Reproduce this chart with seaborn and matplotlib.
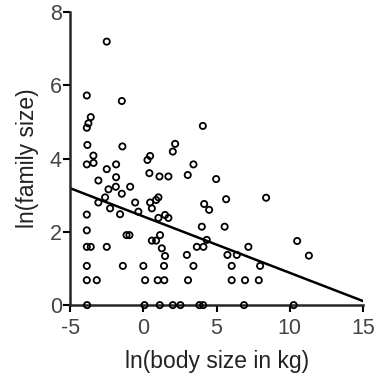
import numpy as np
import pandas as pd
import matplotlib
matplotlib.use("Agg")
import matplotlib.pyplot as plt
import seaborn as sns

# points (ln body size, ln family size)
body_size = [
    -2.5, -3.86, -1.47, -3.59, -3.75, -3.86, 4.06, -3.82, -1.43, 2.17,
    2.01, -3.41, 0.46, 0.28, -3.86, -3.40, -2.5, -1.86, 3.42, 0.41,
    1.10, 1.71, 3.03, 4.97, -3.07, -1.86, -2.38, -1.88, -0.90, -1.47,
    -3.07, -2.61, -2.27, -0.56, -0.34, 0.46, 0.58, 1.03, 0.87, 4.15,
    4.49, 5.65, 8.38, -3.86, -1.59, 1.03, 1.48, 1.71, 3.99, 5.55,
    -3.86, -1.15, -0.95, 1.14, 0.58, 0.87, 4.33, 1.26, 1.48, -3.86,
    -3.59, -2.5, 2.97, 3.65, 4.10, 7.17, 10.5, 11.3, 5.74, 6.38,
    -3.86, -1.4, 0.0, 1.41, 3.42, 6.03, 7.97, -3.86, -3.18, 0.12,
    0.98, 1.43, 3.05, 6.03, 6.94, 7.88,
    -3.84, 0.08, 1.12, 2.01, 2.53, 3.83, 4.08, 6.87, 10.26,
]
family_size = [
    7.19, 5.72, 5.57, 5.13, 4.96, 4.84, 4.89, 4.37, 4.33, 4.40,
    4.19, 4.08, 4.07, 3.96, 3.84, 3.88, 3.71, 3.84, 3.84, 3.60,
    3.51, 3.51, 3.55, 3.44, 3.40, 3.49, 3.16, 3.23, 3.23, 3.04,
    2.80, 2.94, 2.64, 2.80, 2.55, 2.80, 2.64, 2.94, 2.87, 2.76,
    2.60, 2.89, 2.93, 2.47, 2.48, 2.38, 2.46, 2.38, 2.14, 2.14,
    2.04, 1.91, 1.91, 1.91, 1.76, 1.76, 1.78, 1.55, 1.34, 1.59,
    1.59, 1.59, 1.37, 1.59, 1.59, 1.59, 1.75, 1.35, 1.37, 1.37,
    1.07, 1.07, 1.07, 1.07, 1.07, 1.07, 1.07, 0.68, 0.68, 0.68,
    0.68, 0.68, 0.68, 0.68, 0.68, 0.68,
    0, 0, 0, 0, 0, 0, 0, 0, 0,
]

# regression line endpoints
fit_x = [-5, 15]
fit_y = [3.19, 0.11]

df = pd.DataFrame({"body": body_size, "family": family_size})

sns.set_style("ticks")
plt.rcParams['font.family'] = ['Liberation Sans', 'DejaVu Sans']
plt.rcParams['axes.unicode_minus'] = False

fig = plt.figure(figsize=(3.81, 3.73), dpi=100)
ax = fig.add_axes([0.184, 0.182, 0.769, 0.786])

sns.scatterplot(data=df, x="body", y="family", ax=ax, marker="o", s=20,
                facecolor="none", edgecolor="black", linewidth=1.3,
                clip_on=False, zorder=3)
ax.plot(fit_x, fit_y, color="black", lw=1.8, zorder=2)

ax.set_xlim(-5, 15)
ax.set_ylim(0, 8)
ax.set_xticks([-5, 0, 5, 10, 15])
ax.set_yticks([0, 2, 4, 6, 8])
sns.despine(ax=ax)
for s in ["left", "bottom"]:
    ax.spines[s].set_linewidth(1.8)
ax.tick_params(axis="both", labelsize=15.5, width=1.5, length=5,
               color="black", labelcolor="#444444")
ax.tick_params(axis="x", pad=4)
ax.tick_params(axis="y", pad=1)
ax.set_xlabel("ln(body size in kg)", fontsize=16.5, labelpad=8, color="#222222")
ax.set_ylabel("ln(family size)", fontsize=16.5, labelpad=8, color="#222222")

fig.savefig("out.png", dpi=100)
